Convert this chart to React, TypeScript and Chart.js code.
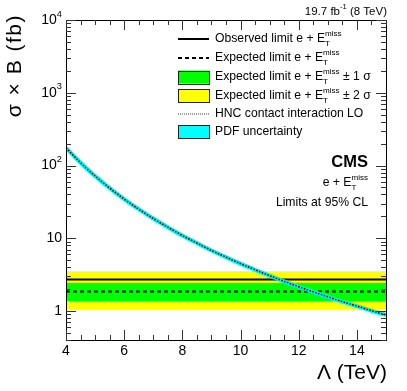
import { useEffect, useRef } from 'react';
import { Chart, registerables } from 'chart.js';

Chart.register(...registerables);

// ---- data ----
const lambdaTeV = [4, 4.5, 5, 5.5, 6, 6.5, 7, 7.5, 8, 8.5, 9, 9.5, 10, 10.5, 11, 11.5, 12, 12.5, 13, 13.5, 14, 14.5, 15];
const hncXsecFb = [175, 109, 71.7, 49.0, 34.6, 25.1, 18.7, 14.2, 10.9, 8.6, 6.8, 5.5, 4.48, 3.69, 3.06, 2.56, 2.16, 1.84, 1.57, 1.35, 1.17, 1.01, 0.885];
const lambdaRange = [4, 15];
const observedLimit = 2.71;
const expectedLimit = 1.86;
const oneSigmaBand = [1.37, 2.44];
const twoSigmaBand = [1.05, 3.51];
const xMajorTicks = [4, 6, 8, 10, 12, 14];
const yDecadeTicks = [1, 10, 100, 1000, 10000];
const yRange = [0.4, 10000];

const FONT = '"Liberation Sans", Arial, Helvetica, sans-serif';

type Part = { t: string; sub?: string; sup?: string };

function richWidth(ctx: CanvasRenderingContext2D, parts: Part[], size: number) {
  let w = 0;
  for (const p of parts) {
    ctx.font = `${size}px ${FONT}`;
    w += ctx.measureText(p.t).width;
    const s = size * 0.66;
    ctx.font = `${s}px ${FONT}`;
    const a = p.sub ? ctx.measureText(p.sub).width : 0;
    const b = p.sup ? ctx.measureText(p.sup).width : 0;
    w += Math.max(a, b);
  }
  return w;
}

function drawRich(ctx: CanvasRenderingContext2D, x: number, y: number, parts: Part[], size: number, align: 'left' | 'right' = 'left', color = '#000') {
  let cx = align === 'right' ? x - richWidth(ctx, parts, size) : x;
  ctx.save();
  ctx.fillStyle = color;
  ctx.textAlign = 'left';
  ctx.textBaseline = 'middle';
  for (const p of parts) {
    ctx.font = `${size}px ${FONT}`;
    ctx.fillText(p.t, cx, y);
    cx += ctx.measureText(p.t).width;
    const s = size * 0.66;
    ctx.font = `${s}px ${FONT}`;
    let a = 0;
    let b = 0;
    if (p.sub) {
      ctx.fillText(p.sub, cx, y + size * 0.42);
      a = ctx.measureText(p.sub).width;
    }
    if (p.sup) {
      ctx.fillText(p.sup, cx, y - size * 0.42);
      b = ctx.measureText(p.sup).width;
    }
    cx += Math.max(a, b);
  }
  ctx.restore();
}

const ETmiss: Part = { t: 'E', sub: 'T', sup: 'miss' };

const framePlugin = {
  id: 'rootFrame',
  afterDraw(chart: any) {
    const ctx: CanvasRenderingContext2D = chart.ctx;
    const { left, right, top, bottom } = chart.chartArea;
    const xs = chart.scales.x;
    const ys = chart.scales.y;
    ctx.save();
    ctx.strokeStyle = '#000';
    ctx.lineWidth = 1;
    ctx.strokeRect(Math.round(left) + 0.5, Math.round(top) + 0.5, Math.round(right - left), Math.round(bottom - top));

    const tick = (x1: number, y1: number, x2: number, y2: number) => {
      ctx.beginPath();
      ctx.moveTo(x1, y1);
      ctx.lineTo(x2, y2);
      ctx.stroke();
    };
    ctx.strokeStyle = '#333';
    // x ticks
    for (let v = lambdaRange[0]; v <= lambdaRange[1] + 1e-9; v += 0.5) {
      const px = Math.round(xs.getPixelForValue(v)) + 0.5;
      const major = xMajorTicks.includes(v);
      const len = major ? 10 : 5;
      tick(px, bottom, px, bottom - len);
      tick(px, top, px, top + len);
    }
    // y ticks
    for (let d = 0.1; d <= 10000; d *= 10) {
      for (let m = 1; m <= 9; m++) {
        const v = Math.round(m * d * 1000) / 1000;
        if (v < yRange[0] - 1e-9 || v > yRange[1] + 1e-9) continue;
        const py = Math.round(ys.getPixelForValue(v)) + 0.5;
        const len = m === 1 ? 10 : 5;
        tick(left, py, left + len, py);
        tick(right, py, right - len, py);
      }
    }
    ctx.restore();

    // tick labels
    ctx.save();
    ctx.fillStyle = '#000';
    ctx.font = `14px ${FONT}`;
    ctx.textAlign = 'center';
    ctx.textBaseline = 'middle';
    for (const v of xMajorTicks) {
      ctx.fillText(String(v), xs.getPixelForValue(v), bottom + 11);
    }
    ctx.restore();
    for (const v of yDecadeTicks) {
      const py = ys.getPixelForValue(v);
      const e = Math.round(Math.log10(v));
      let parts: Part[];
      if (e === 0) parts = [{ t: '1' }];
      else if (e === 1) parts = [{ t: '10' }];
      else parts = [{ t: '10', sup: String(e) }];
      drawRich(ctx, left - 4, py, parts, 14, 'right');
    }

    // axis titles
    ctx.save();
    ctx.fillStyle = '#000';
    ctx.font = `21px ${FONT}`;
    ctx.textAlign = 'right';
    ctx.textBaseline = 'middle';
    ctx.fillText('Λ (TeV)', right + 1, bottom + 33);
    ctx.translate(15, top - 6);
    ctx.rotate(-Math.PI / 2);
    (ctx as any).letterSpacing = '1.5px';
    ctx.fillText('σ × B (fb)', 0, 0);
    ctx.restore();

    // top right lumi label
    drawRich(ctx, right + 1, 12, [{ t: '19.7 fb', sup: '-1' }, { t: ' (8 TeV)' }], 11.5, 'right');

    // legend
    const lx0 = 178;
    const lx1 = 209;
    const tx = 215;
    const rows = [39, 58, 77, 95.5, 114, 131.5];
    ctx.save();
    ctx.strokeStyle = '#000';
    ctx.lineWidth = 2;
    tick(lx0, rows[0], lx1, rows[0]);
    ctx.setLineDash([4, 3]);
    tick(lx0, rows[1], lx1, rows[1]);
    ctx.setLineDash([1, 1]);
    ctx.lineWidth = 1;
    ctx.strokeStyle = '#444';
    tick(lx0, rows[4], lx1, rows[4]);
    ctx.setLineDash([]);
    ctx.lineWidth = 1;
    ctx.strokeStyle = '#222';
    const box = (y: number, color: string) => {
      ctx.fillStyle = color;
      ctx.fillRect(lx0, y - 6.5, lx1 - lx0, 13);
      ctx.strokeRect(lx0 + 0.5, Math.round(y - 6.5) + 0.5, lx1 - lx0, 13);
    };
    box(rows[2], '#00ff00');
    box(rows[3], '#ffff00');
    box(rows[5], '#00ffff');
    ctx.restore();

    const fs = 12.2;
    drawRich(ctx, tx, rows[0], [{ t: 'Observed limit e + ' }, ETmiss], fs);
    drawRich(ctx, tx, rows[1], [{ t: 'Expected limit e + ' }, ETmiss], fs);
    drawRich(ctx, tx, rows[2], [{ t: 'Expected limit e + ' }, ETmiss, { t: ' ± 1 σ' }], fs);
    drawRich(ctx, tx, rows[3], [{ t: 'Expected limit e + ' }, ETmiss, { t: ' ± 2 σ' }], fs);
    drawRich(ctx, tx, rows[4], [{ t: 'HNC contact interaction LO' }], fs);
    drawRich(ctx, tx, rows[5], [{ t: 'PDF uncertainty' }], fs);

    // CMS label
    ctx.save();
    ctx.fillStyle = '#000';
    ctx.font = `bold 16.5px ${FONT}`;
    ctx.textAlign = 'right';
    ctx.textBaseline = 'middle';
    ctx.fillText('CMS', 368, 162);
    ctx.restore();
    drawRich(ctx, 368, 183, [{ t: 'e + ' }, ETmiss], fs, 'right');
    drawRich(ctx, 368, 203, [{ t: 'Limits at 95% CL' }], fs, 'right');
  },
};

const flat = (v: number) => lambdaRange.map((x) => ({ x, y: v }));

export default function App() {
  const ref = useRef<HTMLCanvasElement | null>(null);
  useEffect(() => {
    document.body.style.margin = '0';
    const curve = lambdaTeV.map((x, i) => ({ x, y: hncXsecFb[i] }));
    const base = { pointRadius: 0, borderWidth: 0, tension: 0 };
    const chart = new Chart(ref.current!, {
      type: 'line',
      data: {
        datasets: [
          { ...base, data: flat(twoSigmaBand[0]), borderColor: 'transparent', fill: false, order: 10 },
          { ...base, data: flat(twoSigmaBand[1]), borderColor: 'transparent', backgroundColor: '#ffff00', fill: 0, order: 9 },
          { ...base, data: flat(oneSigmaBand[0]), borderColor: 'transparent', fill: false, order: 8 },
          { ...base, data: flat(oneSigmaBand[1]), borderColor: 'transparent', backgroundColor: '#00ff00', fill: 2, order: 7 },
          { ...base, data: flat(expectedLimit), borderColor: '#000', borderWidth: 2, borderDash: [4, 3], fill: false, order: 6 },
          { ...base, data: flat(observedLimit), borderColor: '#000', borderWidth: 2, fill: false, order: 5 },
          { ...base, data: curve, borderColor: '#00f0f0', borderWidth: 4, fill: false, cubicInterpolationMode: 'monotone', order: 4 },
          { ...base, data: curve, borderColor: '#000', borderWidth: 1.5, borderDash: [1.5, 1.5], fill: false, cubicInterpolationMode: 'monotone', order: 3 },
        ] as any,
      },
      options: {
        animation: false,
        responsive: false,
        parsing: true,
        layout: { padding: { left: 66, right: 21, top: 20, bottom: 51 } },
        scales: {
          x: { type: 'linear', min: lambdaRange[0], max: lambdaRange[1], display: false },
          y: { type: 'logarithmic', min: yRange[0], max: yRange[1], display: false },
        },
        plugins: { legend: { display: false }, tooltip: { enabled: false } },
        events: [],
      },
      plugins: [framePlugin],
    });
    return () => chart.destroy();
  }, []);
  return (
    <div style={{ position: 'absolute', left: 0, top: 0, width: 407, height: 391, background: '#fff' }}>
      <canvas ref={ref} width={407} height={391} style={{ display: 'block' }} />
    </div>
  );
}
